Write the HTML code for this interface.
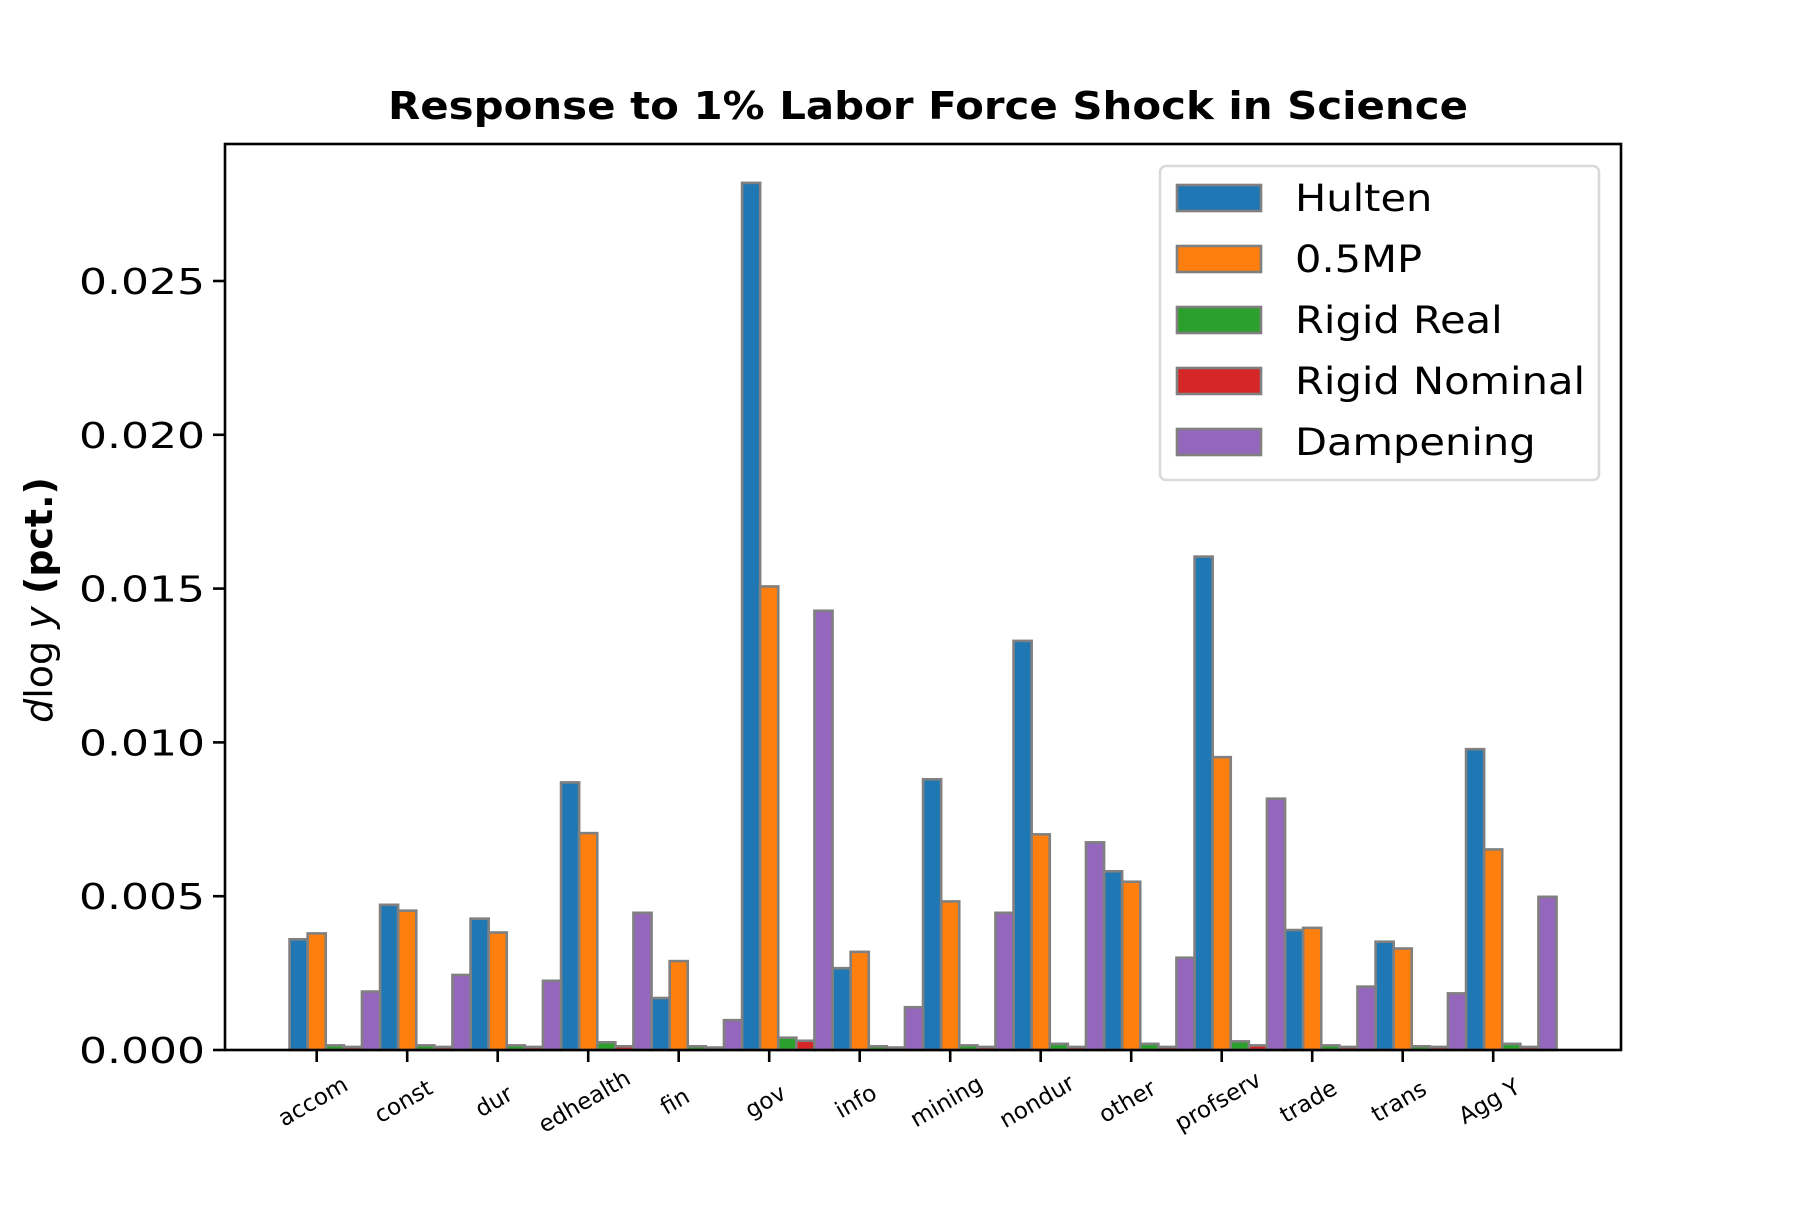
<!DOCTYPE html>
<html><head><meta charset="utf-8"><style>
body{margin:0;background:#fff}
svg text{font-family:"DejaVu Sans","Liberation Sans",sans-serif}
</style></head><body>
<svg id="chart" width="1800" height="1200" viewBox="0 0 1800 1200" xmlns="http://www.w3.org/2000/svg">
<rect width="1800" height="1200" fill="#fff"/>
<text x="928" y="119" font-size="38" font-weight="bold" text-anchor="middle" textLength="1080" lengthAdjust="spacingAndGlyphs">Response to 1% Labor Force Shock in Science</text>
<g id="bars"></g>
<g id="axes"></g>
<text transform="translate(52,600) rotate(-90)" font-size="38" text-anchor="middle"><tspan font-style="italic">d</tspan>log<tspan font-style="italic"> y</tspan> <tspan font-weight="bold">(pct.)</tspan></text>
<g id="legend"></g>
</svg>
<script>
const categories=["accom","const","dur","edhealth","fin","gov","info","mining","nondur","other","profserv","trade","trans","Agg Y"];
const hulten=[0.0036,0.00472,0.00427,0.0087,0.00169,0.02819,0.00266,0.0088,0.0133,0.00581,0.01604,0.0039,0.00352,0.00978];
const mp05=[0.00379,0.00453,0.00382,0.00705,0.00289,0.01507,0.00319,0.00483,0.00701,0.00547,0.00952,0.00397,0.0033,0.00652];
const rigidReal=[0.00015,0.00015,0.00015,0.00025,0.00012,0.0004,0.00012,0.00015,0.0002,0.0002,0.00028,0.00015,0.00012,0.0002];
const rigidNominal=[0.0001,0.0001,0.0001,0.00012,0.00008,0.0003,0.00008,0.0001,0.0001,0.0001,0.00015,0.0001,0.0001,0.0001];
const dampening=[0.0019,0.00244,0.00225,0.00446,0.00097,0.01428,0.00139,0.00446,0.00675,0.003,0.00817,0.00206,0.00184,0.00498];
const seriesNames=["Hulten","0.5MP","Rigid Real","Rigid Nominal","Dampening"];
const yTicks=[0,0.005,0.01,0.015,0.02,0.025];
const yTickLabels=["0.000","0.005","0.010","0.015","0.020","0.025"];

const NS="http://www.w3.org/2000/svg";
const colors=["#1f77b4","#ff7f0e","#2ca02c","#d62728","#9467bd"];
const series=[hulten,mp05,rigidReal,rigidNominal,dampening];
const L=225,R=1621,T=144,B=1050;
const x0=316.7,step=90.5;
const yMax=(B-T)/((B-281)/0.025);
function xs(i){return x0+i*step;}
function ys(v){return B-v/yMax*(B-T);}
function mk(tag,attrs,parent){const e=document.createElementNS(NS,tag);for(const k in attrs)e.setAttribute(k,attrs[k]);parent.appendChild(e);return e;}
const gb=document.getElementById("bars"),ga=document.getElementById("axes"),gl=document.getElementById("legend");
const bw=0.2*step;
series.forEach((s,k)=>{s.forEach((v,i)=>{
  const cx=xs(i)+(k-1)*bw;
  const r=mk("rect",{x:cx-bw/2,y:ys(v),width:bw,height:B-ys(v),fill:colors[k],stroke:"#808080","stroke-width":2.6},gb);
  
  
});});
const frame=mk("rect",{x:L,y:T,width:R-L,height:B-T,fill:"none",stroke:"#000","stroke-width":2.6},ga);


yTicks.forEach((v,j)=>{
  const y=ys(v);
  const t=mk("line",{x1:L-12,x2:L,y1:y,y2:y,stroke:"#000","stroke-width":2.6},ga);
  
  
  const tx=mk("text",{x:L-20,y:y+13,"font-size":36,"text-anchor":"end",textLength:126,lengthAdjust:"spacingAndGlyphs"},ga);
  tx.textContent=yTickLabels[j];
  
  
});
categories.forEach((c,i)=>{
  const x=xs(i);
  const t=mk("line",{x1:x,x2:x,y1:B,y2:B+12,stroke:"#000","stroke-width":2.6},ga);
  
  
  const tx=mk("text",{transform:`translate(${x},${B+58}) rotate(-30)`,"font-size":23,"text-anchor":"middle"},ga);
  tx.textContent=c;
  
  
});
const lb=mk("rect",{x:1160,y:166,width:439,height:314,rx:6,fill:"#fff",stroke:"#d9d9d9","stroke-width":2.6},gl);


const ltexts=[];
seriesNames.forEach((n,k)=>{
  const cy=198+k*61;
  const h=mk("rect",{x:1177,y:cy-13,width:84,height:26,fill:colors[k],stroke:"#808080","stroke-width":2.6},gl);
  
  
  const t=mk("text",{x:1295,y:cy+13,"font-size":37},gl);
  t.textContent=n;
  
  
  ltexts.push(t);
});
const f=290/ltexts[3].getComputedTextLength();
ltexts.forEach(t=>{const w=t.getComputedTextLength()*f;t.setAttribute('textLength',w);t.setAttribute('lengthAdjust','spacingAndGlyphs');});
</script>
</body></html>
